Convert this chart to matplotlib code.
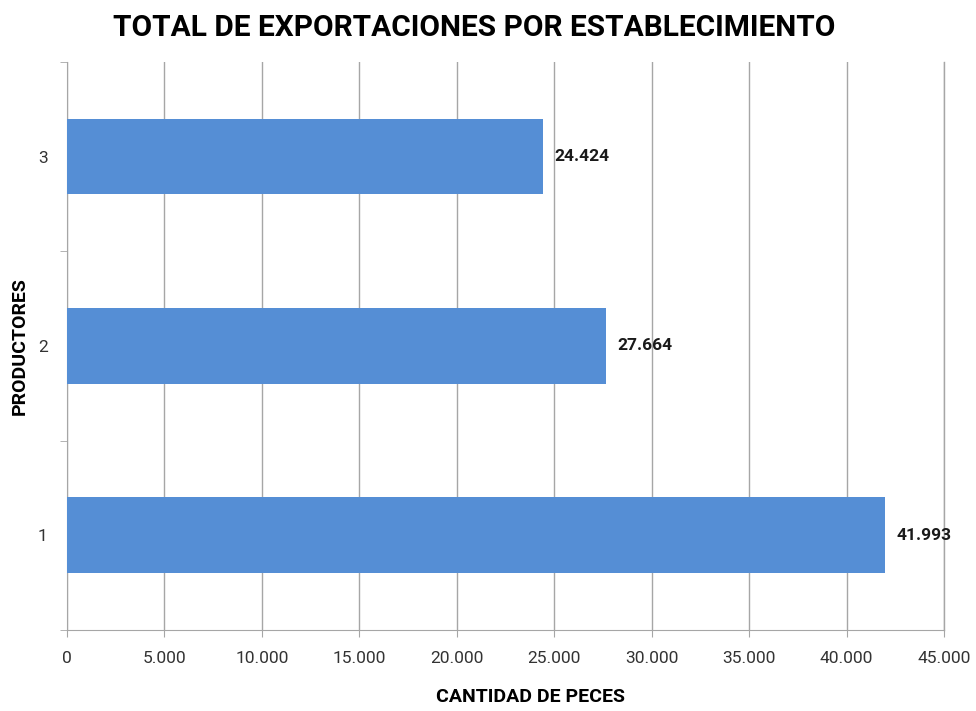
import matplotlib.pyplot as plt
from matplotlib.ticker import FuncFormatter, MultipleLocator

# datos
productores = ["1", "2", "3"]
peces = [41993, 27664, 24424]
etiquetas = ["41.993", "27.664", "24.424"]

plt.rcParams["font.family"] = ["Roboto", "DejaVu Sans"]

fig = plt.figure(figsize=(9.76, 7.11), dpi=100)
ax = fig.add_axes([0.0686, 0.114, 0.8986, 0.799])

pos = list(range(len(productores)))
ax.barh(pos, peces, height=0.4, color="#558ED5", zorder=3)

for p, v, t in zip(pos, peces, etiquetas):
    ax.annotate(t, (v, p), xytext=(8, 0), textcoords="offset points",
                va="center", ha="left", fontsize=12.5, fontweight="bold",
                color="#1a1a1a")

ax.set_xlim(0, 45000)
ax.set_ylim(-0.5, 2.5)
ax.xaxis.set_major_locator(MultipleLocator(5000))
ax.xaxis.set_major_formatter(FuncFormatter(
    lambda x, _: f"{int(x):,}".replace(",", ".")))
ax.set_yticks(pos)
ax.set_yticklabels(productores)
ax.set_yticks([-0.5, 0.5, 1.5, 2.5], minor=True)

ax.grid(axis="x", color="#A6A6A6", linewidth=1, zorder=0)
ax.axvline(45000, color="#A6A6A6", linewidth=1, zorder=0, clip_on=False)
for s in ["top", "right"]:
    ax.spines[s].set_visible(False)
for s in ["left", "bottom"]:
    ax.spines[s].set_color("#A6A6A6")

ax.tick_params(axis="x", length=5, color="#A6A6A6", labelsize=12.5,
               labelcolor="#333333", pad=10)
ax.tick_params(axis="y", which="major", length=0, labelsize=12.5,
               labelcolor="#333333", pad=14)
ax.tick_params(axis="y", which="minor", length=5, color="#A6A6A6")

ax.set_xlabel("CANTIDAD DE PECES", fontsize=14, fontweight="bold")
ax.xaxis.set_label_coords(0.528, -0.102)
ax.set_ylabel("PRODUCTORES", fontsize=14, fontweight="bold")
ax.yaxis.set_label_coords(-0.044, 0.5)
fig.suptitle("TOTAL DE EXPORTACIONES POR ESTABLECIMIENTO", x=0.486, y=0.98,
             fontsize=21.5, fontweight="bold")

plt.savefig("out.png", dpi=100)
